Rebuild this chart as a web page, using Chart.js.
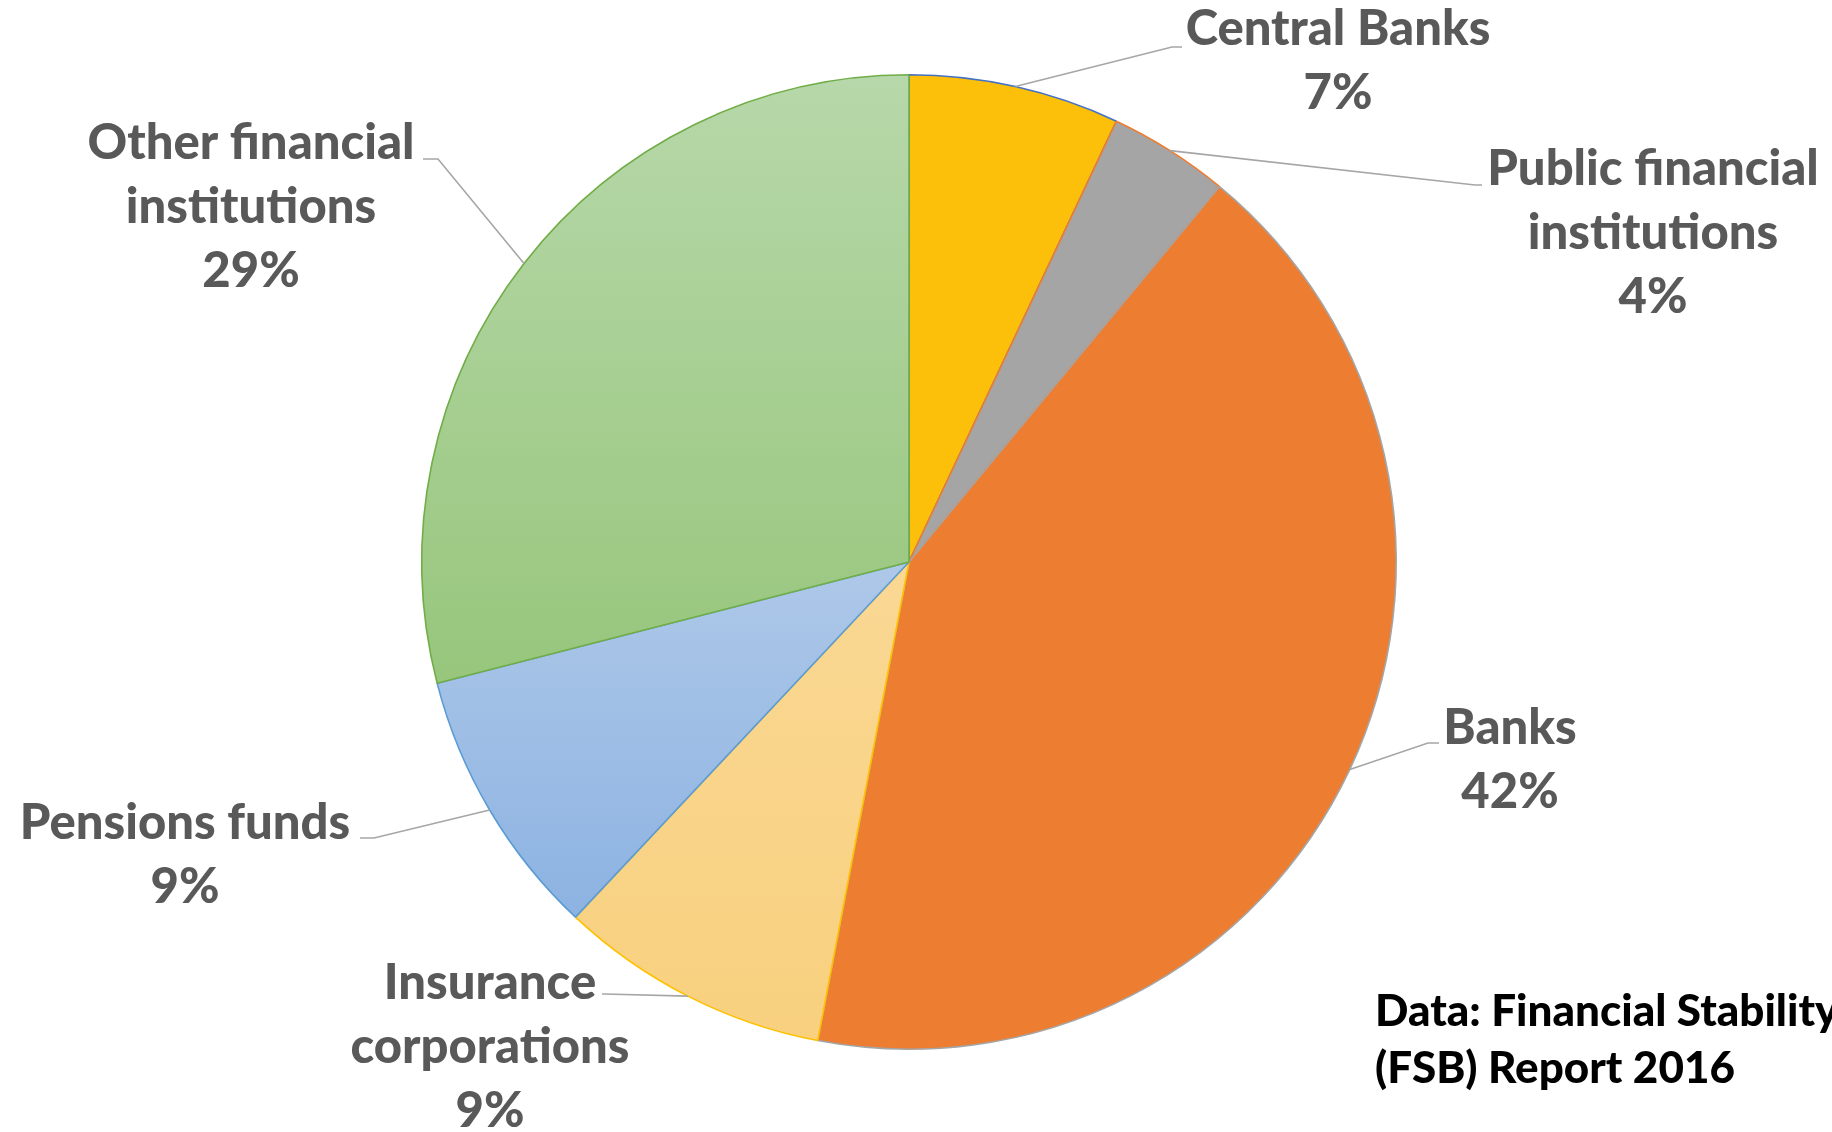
<!DOCTYPE html>
<html>
<head>
<meta charset="utf-8">
<title>Financial assets by sector</title>
<script src="https://cdn.jsdelivr.net/npm/chart.js@4.4.0/dist/chart.umd.min.js"></script>
<style>
  html, body { margin: 0; padding: 0; background: #fff; overflow: hidden; }
  #wrap { position: relative; width: 1832px; height: 1132px; overflow: hidden; }
  #source {
    position: absolute; left: 1375px; top: 981px;
    font-family: Lato, sans-serif; font-weight: 900; font-size: 44px; line-height: 57px;
    color: #000; white-space: nowrap;
  }
</style>
</head>
<body>
<div id="wrap">
  <canvas id="sectors" width="1832" height="1132"></canvas>
  <div id="source">Data: Financial Stability<br>(FSB) Report 2016</div>
</div>
<script>
// sector names, one entry per line of the callout
var sectors = [
  ['Central Banks'],
  ['Public financial', 'institutions'],
  ['Banks'],
  ['Insurance', 'corporations'],
  ['Pensions funds'],
  ['Other financial', 'institutions']
];
// share of total financial assets, %
var shares = [7, 4, 42, 9, 9, 29];

// fill stops (position down the pie, colour) and outline per slice
var fillStops = [
  [[0, '#fcbf0a'], [1, '#fcbf0a']],
  [[0, '#a5a5a5'], [1, '#a5a5a5']],
  [[0, '#ed7d31'], [1, '#ed7d31']],
  [[0.5, '#fad894'], [1, '#f8d07e']],
  [[0.5, '#aec8e8'], [0.86, '#8db3e2']],
  [[0, '#b7d8aa'], [0.62, '#97c67c']]
];
var outlines = ['#4472c4', '#ed7d31', '#a5a5a5', '#ffc000', '#5b9bd5', '#70ad47'];

// where each callout sits: first text line centre, leader elbow and end
var callouts = [
  { x: 1338, y: 29,  elbow: [1172, 47],  end: [1182, 47] },
  { x: 1653, y: 169, elbow: [1475, 185], end: [1482, 185] },
  { x: 1510, y: 728, elbow: [1428, 743], end: [1439, 743] },
  { x: 490,  y: 983, elbow: [604, 994],  end: [602, 994] },
  { x: 185,  y: 823, elbow: [374, 838],  end: [360, 838] },
  { x: 251,  y: 143, elbow: [438, 159],  end: [423, 159] }
];
var lineGap = 64;
var labelFont = '900 49px Lato';

function sliceFill(c) {
  var stops = fillStops[c.dataIndex];
  var area = c.chart.chartArea;
  if (!area) return stops[0][1];
  var cy = (area.top + area.bottom) / 2;
  var r = Math.min(area.width, area.height) / 2;
  var g = c.chart.ctx.createLinearGradient(0, cy - r, 0, cy + r);
  stops.forEach(function(s) { g.addColorStop(s[0], s[1]); });
  return g;
}

var calloutPlugin = {
  id: 'callouts',
  afterDatasetsDraw: function(chart) {
    var ctx = chart.ctx;
    var arcs = chart.getDatasetMeta(0).data;
    ctx.save();
    arcs.forEach(function(arc, i) {
      var spot = callouts[i];
      var mid = (arc.startAngle + arc.endAngle) / 2;
      var r = arc.outerRadius;

      ctx.beginPath();
      ctx.moveTo(arc.x + Math.cos(mid) * r, arc.y + Math.sin(mid) * r);
      ctx.lineTo(spot.elbow[0], spot.elbow[1]);
      ctx.lineTo(spot.end[0], spot.end[1]);
      ctx.strokeStyle = '#a6a6a6';
      ctx.lineWidth = 1.6;
      ctx.stroke();

      var lines = sectors[i].concat([shares[i] + '%']);
      ctx.font = labelFont;
      ctx.fillStyle = '#595959';
      ctx.textAlign = 'center';
      ctx.textBaseline = 'middle';
      lines.forEach(function(t, k) {
        ctx.fillText(t, spot.x, spot.y + k * lineGap);
      });
    });
    ctx.restore();
  }
};

function drawChart() {
  new Chart(document.getElementById('sectors'), {
    type: 'pie',
    data: {
      labels: sectors,
      datasets: [{
        data: shares,
        backgroundColor: sliceFill,
        borderColor: outlines,
        borderWidth: 1.6
      }]
    },
    options: {
      responsive: false,
      animation: false,
      events: [],
      layout: { padding: { top: 74, bottom: 82, left: 421, right: 435 } },
      plugins: {
        legend: { display: false },
        tooltip: { enabled: false }
      }
    },
    plugins: [calloutPlugin]
  });
}

document.fonts.load(labelFont).then(drawChart, drawChart);
</script>
</body>
</html>
